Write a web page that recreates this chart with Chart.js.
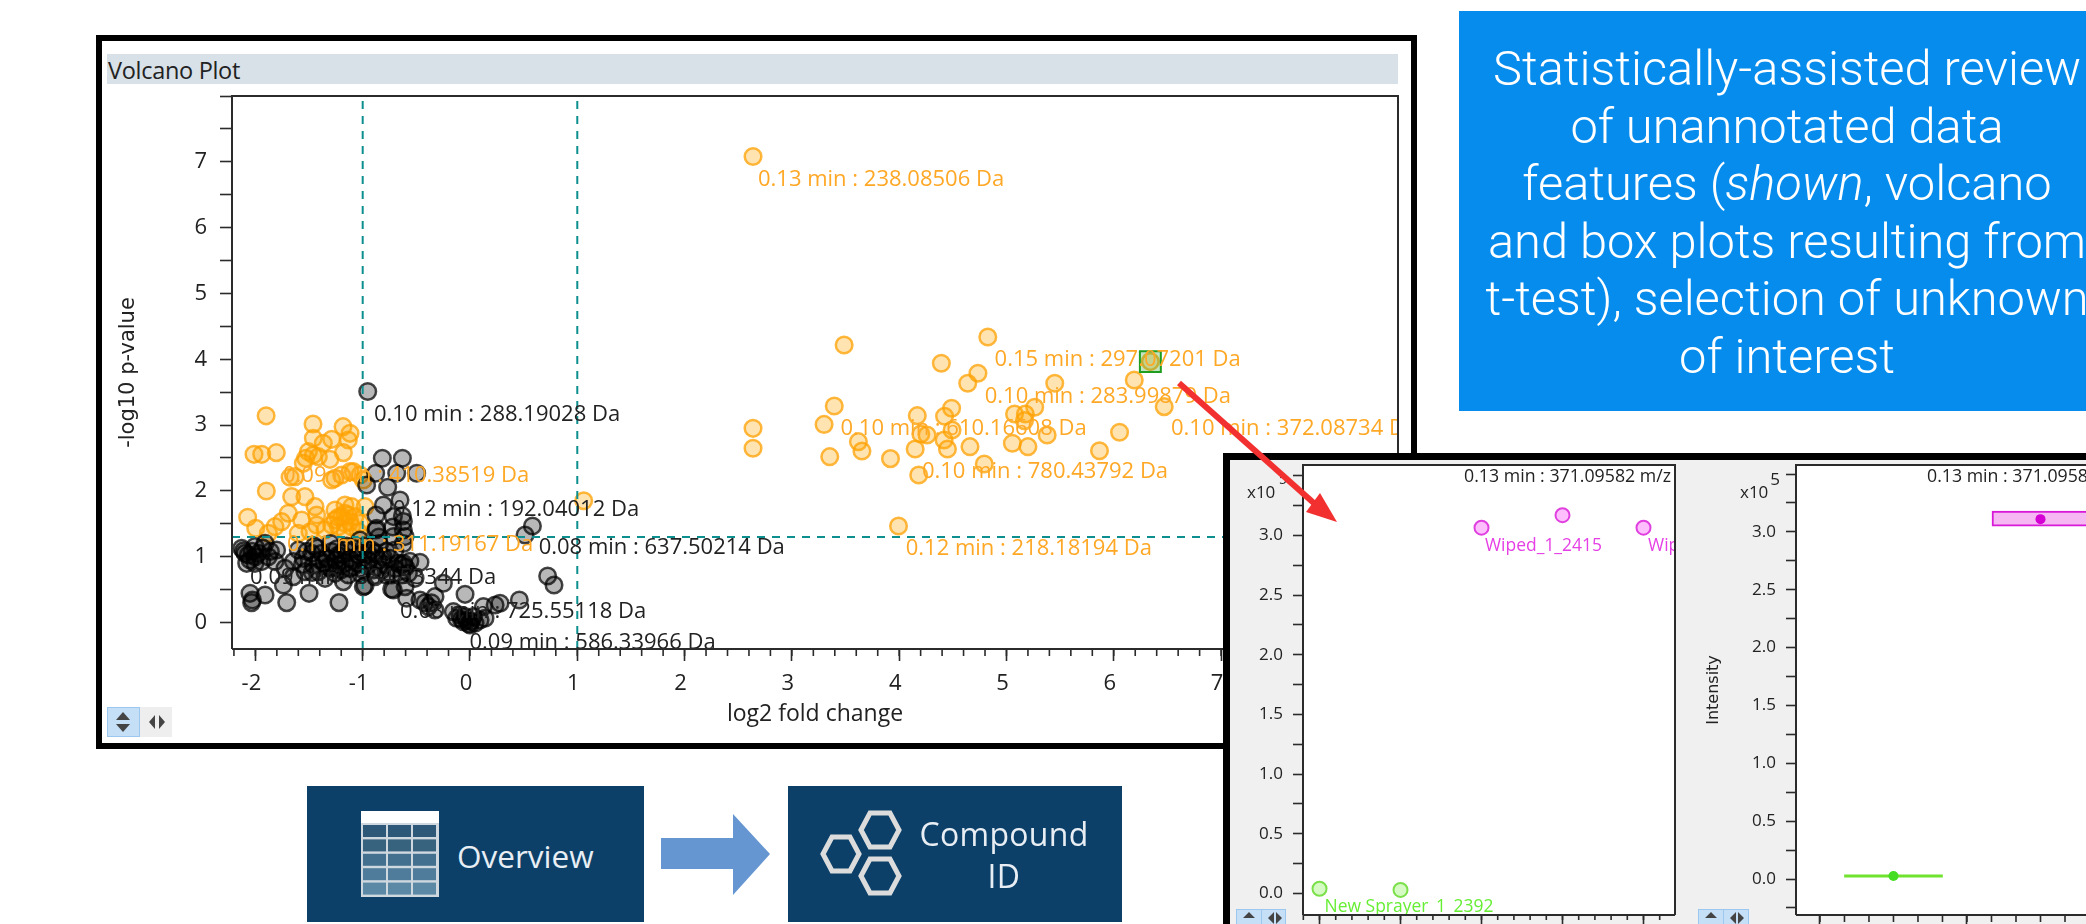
<!DOCTYPE html>
<html>
<head>
<meta charset="utf-8">
<script src="https://cdn.jsdelivr.net/npm/chart.js@4"></script>
<style>
html,body{margin:0;padding:0;background:#fff;width:2086px;height:924px;overflow:hidden;font-family:"Open Sans",sans-serif}
.abs{position:absolute;box-sizing:border-box}
canvas{position:absolute}
#blue div{white-space:nowrap;height:57.5px;line-height:57.5px;text-align:center}
</style>
</head>
<body>
<div class="abs" style="left:96px;top:35px;width:1321px;height:714px;border:6px solid #000;background:#fff"></div>
<div class="abs" style="left:107px;top:54px;width:1291px;height:30px;background:#d8e0e8"></div>
<div class="abs" style="left:108px;top:55px;height:30px;line-height:30px;font-size:23.5px;color:#222;letter-spacing:-.3px">Volcano Plot</div>
<canvas id="volcano" width="1297" height="655" style="left:107px;top:90px"></canvas>
<svg class="abs" style="left:107px;top:707px" width="65" height="30">
 <rect x="0" y="0" width="65" height="30" fill="#eeeeee"/>
 <rect x="0.5" y="0.5" width="32" height="29" fill="#c4dff6" stroke="#9cc8f0"/>
 <path d="M16 5l7 8h-14zM16 25l7-8h-14z" fill="#444"/>
 <path d="M42 15l6-7v14zM58 15l-6-7v14z" fill="#444"/>
</svg>

<div id="blue" class="abs" style="left:1459px;top:11px;width:656px;height:400px;background:#068ced;color:#fff;font-family:Roboto,sans-serif;font-size:48.8px;font-weight:300;padding-top:29px">
 <div>Statistically-assisted review</div>
 <div>of unannotated data</div>
 <div>features (<i>shown</i>, volcano</div>
 <div>and box plots resulting from</div>
 <div>t-test), selection of unknown</div>
 <div>of interest</div>
</div>

<div class="abs" style="left:1223px;top:453px;width:870px;height:480px;border:7px solid #000;background:#f0f0f0"></div>
<canvas id="scatterPanel" width="460" height="465" style="left:1230px;top:459px"></canvas>
<canvas id="boxPanel" width="396" height="465" style="left:1690px;top:459px"></canvas>
<svg class="abs" style="left:1236px;top:909px" width="50" height="15"><rect x=".5" y=".5" width="25" height="24" fill="#c4dff6" stroke="#9cc8f0"/><rect x="25.5" y=".5" width="24" height="24" fill="#c4dff6" stroke="#9cc8f0"/><path d="M13 3l6 6h-12zM38 3l0 12l-6-6zM40 3l0 12l6-6z" fill="#444"/></svg>
<svg class="abs" style="left:1698px;top:909px" width="51" height="15"><rect x=".5" y=".5" width="25" height="24" fill="#c4dff6" stroke="#9cc8f0"/><rect x="25.5" y=".5" width="25" height="24" fill="#c4dff6" stroke="#9cc8f0"/><path d="M13 3l6 6h-12zM38 3l0 12l-6-6zM40 3l0 12l6-6z" fill="#444"/></svg>

<svg class="abs" style="left:0;top:0;pointer-events:none" width="2086" height="924">
 <line x1="1179" y1="383" x2="1316" y2="505" stroke="#f23030" stroke-width="6"/>
 <path d="M1337 522L1320 493L1306 512Z" fill="#f23030"/>
</svg>

<div class="abs" style="left:307px;top:786px;width:337px;height:136px;background:#0c4069"></div>
<div class="abs" style="left:788px;top:786px;width:334px;height:136px;background:#0c4069"></div>
<svg class="abs" style="left:0;top:0" width="2086" height="924" id="deco">
 <path d="M661 838L733 838L733 814L770 854L733 895L733 869L661 869Z" fill="#6596d2"/>
 <g fill="none" stroke="#dcdcdc" stroke-width="5">
  <path d="M861 830L870 813L890 813L899 830L890 847L870 847Z"/>
  <path d="M823 854L832 837L850 837L859 854L850 871L832 871Z"/>
  <path d="M861 876L870 859L890 859L899 876L890 893L870 893Z"/>
 </g>
</svg>
<div class="abs" style="left:457px;top:836px;line-height:40px;font-size:31.5px;color:#e8eef3">Overview</div>
<div class="abs" style="left:904px;top:813px;width:200px;text-align:center;line-height:42px;font-size:32px;color:#e8eef3;letter-spacing:.3px">Compound<br>ID</div>

<script>
// Volcano plot values: [log2 fold change, -log10 p-value]
const orangeLeft = [[-1.90,3.14],[-1.463,3.016],[-1.183,2.976],[-1.118,2.874],[-1.134,2.773],[-1.46,2.798],[-1.289,2.783],[-1.367,2.722],[-1.506,2.596],[-1.46,2.545],[-1.413,2.52],[-1.531,2.494],[-1.305,2.479],[-1.18,2.581],[-2.013,2.555],[-1.941,2.555],[-1.805,2.581],[-1.553,2.418],[-1.631,2.216],[-1.677,2.206],[-1.289,2.165],[-1.196,2.241],[-1.087,2.292],[-1.025,2.241],[-0.994,2.165],[-1.258,2.19],[-1.118,2.292],[-1.898,1.998],[-1.662,1.912],[-1.538,1.912],[-1.444,1.76],[-1.429,1.633],[-1.258,1.709],[-1.165,1.785],[-1.103,1.76],[-0.978,1.76],[-1.693,1.659],[-1.569,1.557],[-1.755,1.532],[-1.817,1.456],[-2.072,1.598],[-1.997,1.431],[-1.879,1.355],[-1.258,1.557],[-1.196,1.608],[-1.134,1.633],[-1.072,1.608],[-1.165,1.507],[-1.227,1.456],[-1.103,1.456],[-1.025,1.507],[-1.289,1.481],[-1.429,1.481],[-1.351,1.405],[-1.6,1.355],[-1.491,1.38],[-1.165,1.38],[-1.04,1.38],[-1.227,1.6],[-1.118,1.53],[-1.165,1.66]];
const orangeRight = [[2.638,7.08],[1.06,1.85],[3.487,4.217],[4.826,4.339],[4.393,3.939],[4.734,3.787],[4.639,3.635],[5.45,3.635],[6.191,3.685],[6.341,3.964],[6.47,3.28],[3.395,3.29],[2.638,2.95],[2.638,2.647],[3.3,3.01],[4.169,3.143],[4.489,3.255],[4.423,3.133],[5.263,3.27],[5.075,3.169],[5.176,3.169],[5.168,3.067],[4.202,2.865],[4.26,2.85],[4.493,2.926],[4.419,2.774],[3.62,2.748],[3.653,2.606],[3.353,2.52],[3.919,2.49],[4.149,2.637],[4.45,2.637],[4.66,2.672],[5.055,2.723],[5.2,2.672],[5.379,2.85],[6.054,2.89],[5.867,2.61],[4.793,2.409],[4.182,2.242],[3.994,1.467]];
const grayUpper = [[-0.953,3.51],[-0.817,2.495],[-0.63,2.495],[-0.879,2.267],[-0.683,2.267],[-0.497,2.267],[-0.963,2.09],[-0.767,2.055],[-0.652,1.862],[-0.807,1.786],[-0.714,1.609],[-0.876,1.634],[-0.621,1.533],[-0.876,1.406],[-0.621,1.406],[-0.714,1.305],[-0.605,1.305],[0.582,1.467],[0.513,1.33],[-0.87,1.43],[-0.72,1.45],[-0.62,1.2],[-0.85,1.3],[-0.63,1.62]];
const grayBand = [[-2.097,1.051],[-2.128,1.127],[-2.05,0.95],[-2.004,1.153],[-1.91,1.203],[-1.802,1.102],[-1.879,1.0],[-1.817,0.925],[-2.066,1.026],[-1.972,1.051],[-1.646,0.925],[-1.553,0.975],[-1.46,0.874],[-1.382,1.051],[-1.289,1.077],[-1.196,1.051],[-1.118,0.975],[-1.025,1.254],[-0.947,1.051],[-0.854,0.95],[-0.776,1.077],[-0.668,0.9],[-0.574,0.747],[-1.646,0.697],[-1.739,0.57],[-1.538,0.773],[-1.413,0.773],[-1.32,0.849],[-1.18,0.621],[-1.087,0.849],[-0.994,0.798],[-0.885,0.697],[-0.823,0.798],[-0.73,0.722],[-0.637,0.722],[-0.512,0.671],[-0.605,0.545],[-1.724,0.823],[-1.242,0.874],[-1.04,1.026],[-1.351,0.671],[-1.258,0.747],[-1.134,0.722],[-1.475,1.051],[-0.916,1.102],[-0.745,0.975],[-1.6,1.102],[-1.165,0.899],[-1.336,0.975],[-2.004,0.899],[-2.081,0.899],[-1.941,0.925],[-1.45,1.16],[-1.3,1.2],[-1.15,1.16],[-0.85,1.2],[-0.7,1.1],[-1.4,0.95],[-1.25,0.95],[-1.05,0.9],[-0.95,0.95],[-2.11,1.09],[-2.03,1.08],[-2.0,1.0],[-1.93,1.13],[-1.86,1.08],[-1.52,1.08],[-1.42,1.13],[-1.36,0.9],[-1.24,1.12],[-1.23,1.02],[-1.16,1.1],[-1.07,1.12],[-1.0,1.05],[-0.98,1.16],[-0.88,1.05],[-0.81,1.0],[-0.8,0.88],[-0.96,0.86],[-0.9,0.8],[-1.12,0.82],[-1.2,0.8],[-1.3,0.82],[-1.47,0.76],[-1.56,0.88],[-0.7,0.82],[-0.6,0.84],[-0.56,0.93],[-1.02,0.74],[-0.78,0.72]];
const grayLower = [[-2.05,0.443],[-1.91,0.418],[-2.035,0.302],[-2.028,0.342],[-1.708,0.302],[-1.5,0.443],[-1.221,0.302],[-0.994,0.545],[-0.73,0.509],[-0.466,0.915],[-0.621,0.9],[0.724,0.707],[0.783,0.57],[-0.046,0.428],[-0.636,0.874],[-0.714,0.494],[-0.978,0.56],[-0.248,0.596],[-0.59,0.368],[-0.466,0.342],[-0.326,0.393],[-0.388,0.241],[-0.326,0.19],[0.46,0.342],[0.28,0.292],[0.234,0.266],[0.125,0.241],[0.14,0.064],[0.032,0.089],[-0.155,0.165],[-0.124,0.064],[-0.062,0.013],[0,-0.038],[-0.046,0.089],[-0.093,0.114],[0.047,-0.012],[0.094,0.038],[-0.03,0.03],[0.01,0.02],[-0.08,0.05],[-0.01,-0.02],[-0.42,0.3],[-0.36,0.3]];
const selectedFeature = [[6.341,3.964]];
const foldChangeCutoffs = [-1,1];
const pValueCutoff = 1.3;
const orangeLabelText = ["0.13 min : 238.08506 Da","0.15 min : 297.07201 Da","0.10 min : 283.99879 Da","0.10 min : 610.16608 Da","0.10 min : 372.08734 Da","0.10 min : 780.43792 Da","0.12 min : 218.18194 Da","0.09 min : 410.38519 Da","0.11 min : 311.19167 Da"];
const orangeLabelAt = [[2.684,6.725],[4.889,3.989],[4.797,3.432],[3.453,2.941],[6.533,2.941],[4.212,2.292],[4.061,1.117],[-1.743,2.226],[-1.705,1.178]];
const grayLabelText = ["0.10 min : 288.19028 Da","0.12 min : 192.04012 Da","0.08 min : 637.50214 Da","0.09 min : 384.53344 Da","0.08 min : 725.55118 Da","0.09 min : 586.33966 Da"];
const grayLabelAt = [[-0.895,3.153],[-0.718,1.71],[0.64,1.132],[-2.05,0.676],[-0.652,0.16],[-0.005,-0.312]];

// Individual sample intensities (x10^5), by replicate position
const newSprayerPoints = [[1,0.04],[2,0.03]];
const wipedPoints = [[3,3.065],[4,3.17],[5,3.065]];
const sampleLabelText = ["Wiped_1_2415","Wiped_1_2416","New Sprayer_1_2392"];
const sampleLabelAt = [[3.043,2.911],[5.056,2.911],[1.062,-0.115]];

// Box plot (x10^5)
const boxNewSprayer = {x:1,low:0.016,high:0.036,mean:0.026};
const boxWiped = {x:2,low:3.05,high:3.18,mean:3.11};
const featureTitle = "0.13 min : 371.09582 m/z";

const INK = '#222';
const FONT = '"Open Sans",sans-serif';
const ORANGE_TEXT = '#ffa826';

function toXY(list){return list.map(p=>({x:p[0],y:p[1]}));}
function noPad(s){s.paddingTop=0;s.paddingBottom=0;s.paddingLeft=0;s.paddingRight=0;}

function deco(cfg){return {
  id:'deco',
  beforeDraw(c){
    const a=c.chartArea,g=c.ctx;
    g.save();g.fillStyle='#fff';g.fillRect(a.left,a.top,a.width,a.height);g.restore();
  },
  afterDatasetsDraw(c){
    const a=c.chartArea,g=c.ctx,sx=c.scales.x,sy=c.scales.y;
    g.save();
    g.beginPath();g.rect(a.left,a.top,a.width,a.height);g.clip();
    g.textBaseline='middle';
    (cfg.labels||[]).forEach(l=>{
      g.font=l.font;g.fillStyle=l.color;g.textAlign=l.align||'left';
      g.fillText(l.text,sx.getPixelForValue(l.at[0]),sy.getPixelForValue(l.at[1]),l.maxWidth);
    });
    g.restore();
    g.save();
    g.strokeStyle='#2b2b2b';g.lineWidth=2;
    g.beginPath();
    g.moveTo(a.left,a.bottom);g.lineTo(a.left,a.top);g.lineTo(a.right,a.top);
    if(cfg.rightBorder){g.lineTo(a.right,a.bottom);}
    g.moveTo(a.left,a.bottom);g.lineTo(a.right,a.bottom);
    g.stroke();
    g.lineWidth=1.6;g.beginPath();
    const start=Math.ceil(sx.min/cfg.minorStep);
    for(let i=start;i*cfg.minorStep<=sx.max;i++){
      const px=sx.getPixelForValue(i*cfg.minorStep);
      g.moveTo(px,a.bottom);g.lineTo(px,a.bottom+cfg.minorLen);
    }
    g.stroke();
    (cfg.texts||[]).forEach(t=>{
      g.save();g.translate(t.px,t.py);
      g.font=t.font;g.fillStyle=t.color||INK;g.textAlign=t.align||'center';g.textBaseline='middle';
      g.fillText(t.text,0,0);g.restore();
    });
    g.restore();
  }
};}

function yAxis(min,max,step,width,tickLen,font,pad,cb,title){
  return {type:'linear',min,max,position:'left',
    afterFit(s){s.width=width;noPad(s);},
    title:title||{display:false},
    border:{display:false},
    grid:{drawOnChartArea:false,drawTicks:true,tickLength:tickLen,tickWidth:1.6,tickColor:'#2b2b2b'},
    ticks:{stepSize:step,includeBounds:false,autoSkip:false,maxRotation:0,padding:pad,color:INK,font:{family:FONT,size:font},callback:cb}};
}

// ---- Volcano plot
const volcanoDeco = deco({minorStep:0.2,minorLen:7,rightBorder:true,
  labels:[
    ...orangeLabelText.map((t,i)=>({text:t,at:orangeLabelAt[i],color:ORANGE_TEXT,font:'22px '+FONT,maxWidth:248})),
    ...grayLabelText.map((t,i)=>({text:t,at:grayLabelAt[i],color:INK,font:'22px '+FONT,maxWidth:248}))
  ]
});
const yMinV=-0.4027,yMaxV=8,xMinV=-2.218,xMaxV=8.649;
new Chart(document.getElementById('volcano'),{
  type:'scatter',
  plugins:[volcanoDeco],
  data:{datasets:[
    {label:'x cutoff low',showLine:true,data:[{x:foldChangeCutoffs[0],y:yMinV},{x:foldChangeCutoffs[0],y:yMaxV}],borderColor:'#0e8f8f',borderWidth:2,borderDash:[8,7],pointRadius:0},
    {label:'x cutoff high',showLine:true,data:[{x:foldChangeCutoffs[1],y:yMinV},{x:foldChangeCutoffs[1],y:yMaxV}],borderColor:'#0e8f8f',borderWidth:2,borderDash:[8,7],pointRadius:0},
    {label:'p cutoff',showLine:true,data:[{x:xMinV,y:pValueCutoff},{x:xMaxV,y:pValueCutoff}],borderColor:'#0e8f8f',borderWidth:2,borderDash:[8,7],pointRadius:0},
    {label:'selected',data:toXY(selectedFeature),pointStyle:'rect',pointRadius:14.8,borderColor:'#1f9d1f',borderWidth:2,backgroundColor:'rgba(60,170,60,.3)'},
    {label:'not significant',data:toXY([...grayUpper,...grayBand,...grayLower]),pointRadius:8.3,borderWidth:2.5,borderColor:'rgba(0,0,0,.72)',backgroundColor:'rgba(0,0,0,.28)'},
    {label:'significant',data:toXY([...orangeLeft,...orangeRight]),pointRadius:8.3,borderWidth:2.5,borderColor:'rgba(255,160,0,.75)',backgroundColor:'rgba(255,165,0,.3)'}
  ]},
  options:{responsive:false,animation:false,events:[],devicePixelRatio:1,
    layout:{autoPadding:false,padding:{top:6,right:6,left:0,bottom:0}},
    plugins:{legend:{display:false},tooltip:{enabled:false}},
    scales:{
      x:{type:'linear',min:xMinV,max:xMaxV,position:'bottom',
        afterFit(s){s.height=96;noPad(s);},
        border:{display:false},
        grid:{drawOnChartArea:false,tickLength:12,tickWidth:1.6,tickColor:'#2b2b2b'},
        ticks:{stepSize:1,includeBounds:false,maxRotation:0,padding:10,labelOffset:-4,color:INK,font:{family:FONT,size:22}},
        title:{display:true,text:'log2 fold change',color:INK,font:{family:FONT,size:23},padding:{top:0,bottom:17}}},
      y:yAxis(yMinV,yMaxV,0.5,125,12,22,13,v=>(Number.isInteger(v)&&v<8)?String(v):'',
        {display:true,text:'-log10 p-value',color:INK,font:{family:'"DejaVu Sans",sans-serif',size:21},padding:{top:9,bottom:0}})
    }}
});

// ---- Sample scatter panel
const intensityTick = v=>{const r=Math.round(v*100)/100;return (r<3.4&&Math.abs(r*2-Math.round(r*2))<1e-6)?r.toFixed(1):'';};
const scatterDeco = deco({minorStep:0.2,minorLen:5,rightBorder:true,
  labels:[
    {text:sampleLabelText[0],at:sampleLabelAt[0],color:'#e63fe6',font:'18px '+FONT,maxWidth:117},
    {text:sampleLabelText[1],at:sampleLabelAt[1],color:'#e63fe6',font:'18px '+FONT,maxWidth:117},
    {text:sampleLabelText[2],at:sampleLabelAt[2],color:'#66ee33',font:'18px '+FONT,maxWidth:169},
    {text:featureTitle,at:[5.34,3.493],color:INK,font:'18px '+FONT,align:'right',maxWidth:207}
  ],
  texts:[{text:'x10',px:17,py:34,align:'left',font:'17px '+FONT},{text:'5',px:53,py:21,font:'14px '+FONT}]
});
new Chart(document.getElementById('scatterPanel'),{
  type:'scatter',
  plugins:[scatterDeco],
  data:{datasets:[
    {label:'New Sprayer',data:toXY(newSprayerPoints),pointRadius:7,borderWidth:2,borderColor:'#7be04a',backgroundColor:'rgba(120,240,60,.3)'},
    {label:'Wiped',data:toXY(wipedPoints),pointRadius:7,borderWidth:2,borderColor:'#e040e0',backgroundColor:'rgba(255,0,255,.25)'}
  ]},
  options:{responsive:false,animation:false,events:[],devicePixelRatio:1,
    layout:{autoPadding:false,padding:{top:6,right:15,left:0,bottom:0}},
    plugins:{legend:{display:false},tooltip:{enabled:false}},
    scales:{
      x:{type:'linear',min:0.796,max:5.389,position:'bottom',
        afterFit(s){s.height=9;noPad(s);},
        border:{display:false},
        grid:{drawOnChartArea:false,tickLength:9,tickWidth:1.6,tickColor:'#2b2b2b'},
        ticks:{display:false,stepSize:1,includeBounds:false}},
      y:yAxis(-0.18,3.59,0.25,73,10,17,10,intensityTick)
    }}
});

// ---- Box plot panel
const boxDeco = deco({minorStep:1/6,minorLen:7,rightBorder:false,
  labels:[{text:featureTitle,at:[1.228,3.475],color:INK,font:'18px '+FONT,maxWidth:207}],
  texts:[{text:'x10',px:50,py:34,align:'left',font:'17px '+FONT},{text:'5',px:85,py:21,font:'17px '+FONT}]
});
new Chart(document.getElementById('boxPanel'),{
  type:'bar',
  plugins:[boxDeco],
  data:{datasets:[
    {type:'scatter',label:'mean',data:[{x:boxNewSprayer.x,y:boxNewSprayer.mean}],pointRadius:5,borderWidth:0,backgroundColor:'#44dd22'},
    {type:'scatter',label:'mean',data:[{x:boxWiped.x,y:boxWiped.mean}],pointRadius:5,borderWidth:0,backgroundColor:'#d400d4'},
    {label:'New Sprayer',grouped:false,data:[{x:boxNewSprayer.x,y:[boxNewSprayer.low,boxNewSprayer.high]}],barThickness:98,backgroundColor:'#6fe32f',borderWidth:0},
    {label:'Wiped',grouped:false,data:[{x:boxWiped.x,y:[boxWiped.low,boxWiped.high]}],barThickness:97,backgroundColor:'#f5b8f2',borderColor:'#d819d8',borderWidth:2,borderSkipped:false}
  ]},
  options:{responsive:false,animation:false,events:[],devicePixelRatio:1,
    layout:{autoPadding:false,padding:{top:6,right:0,left:0,bottom:0}},
    plugins:{legend:{display:false},tooltip:{enabled:false}},
    scales:{
      x:{type:'linear',min:0.337,max:2.3095,offset:false,position:'bottom',
        afterFit(s){s.height=9;noPad(s);},
        border:{display:false},
        grid:{drawOnChartArea:false,tickLength:9,tickWidth:1.6,tickColor:'#2b2b2b'},
        ticks:{display:false,stepSize:1,includeBounds:false}},
      y:yAxis(-0.311,3.578,0.25,106,10,17,10,intensityTick,
        {display:true,text:'Intensity',color:INK,font:{family:'"DejaVu Sans",sans-serif',size:16},padding:{top:14,bottom:0}})
    }}
});

// ---- Overview table icon (decorative, not chart data)
(function(){
  const svg=document.getElementById('deco'),NS='http://www.w3.org/2000/svg';
  function r(x,y,w,h,f){const e=document.createElementNS(NS,'rect');e.setAttribute('x',x);e.setAttribute('y',y);e.setAttribute('width',w);e.setAttribute('height',h);e.setAttribute('fill',f);svg.appendChild(e);}
  r(361,811,78,86,'#cfd8df');r(361,811,78,12,'#ffffff');
  const rows=['#2d5877','#38637f','#44708f','#4f7c9b','#5b88a5'];
  rows.forEach((c,i)=>{[0,1,2].forEach(j=>r(363+j*25,825+i*14.4,23,12,c));});
})();
</script>
</body>
</html>
